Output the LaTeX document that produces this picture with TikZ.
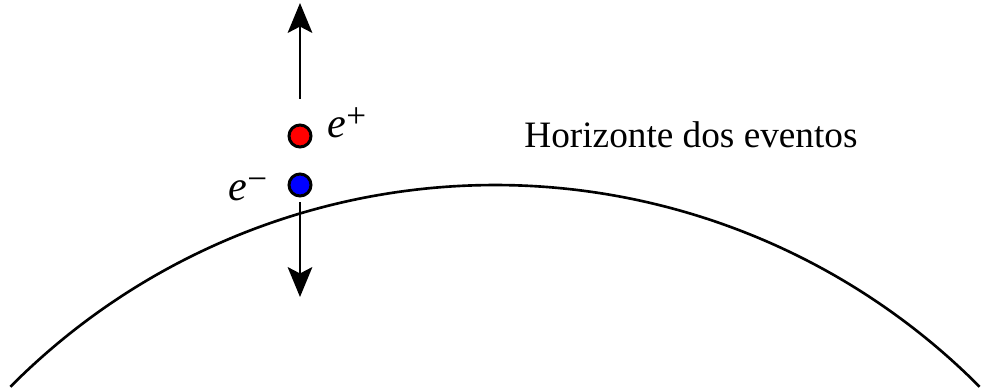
\documentclass[tikz,border=0pt]{standalone}
\usepackage{fontspec}
\setmainfont{Liberation Serif}
\usetikzlibrary{arrows.meta,positioning}
\newcommand{\carga}[1]{\raisebox{2.8pt}{\fontsize{10}{10}\selectfont #1}}
\tikzset{
  particula/.style={circle,draw=black,line width=0.85pt,minimum size=0.22cm,inner sep=0pt},
  seta/.style={-{Stealth[length=8.5pt,width=7pt,inset=1.8pt]},line width=0.65pt},
  rotulo/.style={inner sep=0pt,font=\fontsize{12}{14}\selectfont}
}
\begin{document}
\begin{tikzpicture}
    \useasboundingbox (0,0) rectangle (9.81,3.89);
    % Horizonte dos eventos
    \draw[line width=0.75pt] (4.95,-4.79) ++(135.2:6.83) arc[start angle=135.2,end angle=44.8,radius=6.83];
    \node[anchor=base,inner sep=0pt,font=\fontsize{10.6}{12}\selectfont] (horizonte) at (6.91,2.42) {Horizonte dos eventos};
    % Par de particulas
    \node[particula,fill=red] (pos) at (3.00,2.53) {};
    \node[particula,fill=blue] (ele) at (3.00,2.04) {};
    \node[rotulo,anchor=base west] (poslabel) at (3.27,2.52) {\textit{e}\carga{+}};
    \node[rotulo,anchor=base east] (elelabel) at (2.68,1.89) {\textit{e}\carga{−}};
    % Setas
    \coordinate (cima) at (3.00,3.86);
    \coordinate (baixo) at (3.00,0.92);
    \draw[seta] ([yshift=0.25cm]pos.north) -- (cima);
    \draw[seta] ([yshift=-0.05cm]ele.south) -- (baixo);
\end{tikzpicture}
\end{document}
